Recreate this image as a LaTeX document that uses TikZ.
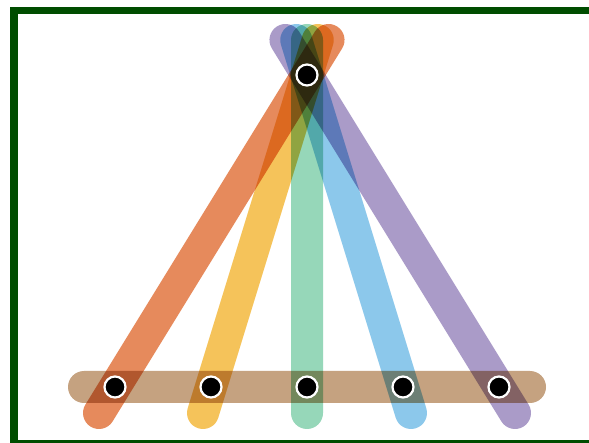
\documentclass[tikz,border=0pt]{standalone}
\usetikzlibrary{calc}
\definecolor{framegreen}{RGB}{0,77,0}
\definecolor{cOrange}{RGB}{230,138,92}
\definecolor{cYellow}{RGB}{245,195,90}
\definecolor{cGreen}{RGB}{150,215,185}
\definecolor{cBlue}{RGB}{140,200,235}
\definecolor{cPurple}{RGB}{170,155,200}
\definecolor{cTan}{RGB}{197,162,128}
\tikzset{
  band/.style={line width=32pt, line cap=round},
  dot/.style={circle, fill=black, draw=white, line width=2.2pt, minimum size=21pt, inner sep=0pt}
}
\begin{document}
\begin{tikzpicture}[x=1pt, y=-1pt]
\useasboundingbox (0,0) rectangle (589,443);
\fill[framegreen] (10,7) rectangle (589,443);
\fill[white] (18,14) rectangle (589,439.5);
% dot positions
\coordinate (tp) at (307,75);
\coordinate (p1) at (115,387);
\coordinate (p2) at (211,387);
\coordinate (p3) at (307,387);
\coordinate (p4) at (403,387);
\coordinate (p5) at (499,387);
\coordinate (barL) at (84,387);
\coordinate (barR) at (530,387);
\foreach \i in {1,...,5}{
  \coordinate (lo\i) at ($(p\i)!-0.08333!(tp)$);
  \coordinate (hi\i) at ($(p\i)!1.1122!(tp)$);
}
\begin{scope}[blend group=multiply]
\draw[band, cTan] (barL) -- (barR);
\draw[band, cOrange] (lo1) -- (hi1);
\draw[band, cYellow] (lo2) -- (hi2);
\draw[band, cGreen] (lo3) -- (hi3);
\draw[band, cBlue] (lo4) -- (hi4);
\draw[band, cPurple] (lo5) -- (hi5);
\end{scope}
% dots
\node[dot] (t) at (tp) {};
\node[dot] (b1) at (p1) {};
\node[dot] (b2) at (p2) {};
\node[dot] (b3) at (p3) {};
\node[dot] (b4) at (p4) {};
\node[dot] (b5) at (p5) {};
\end{tikzpicture}
\end{document}
